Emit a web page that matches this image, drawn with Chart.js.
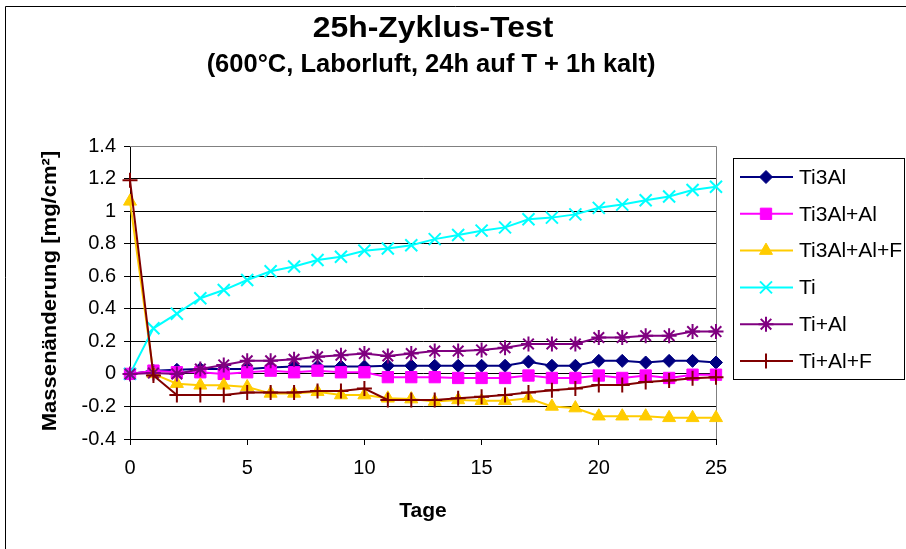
<!DOCTYPE html>
<html>
<head>
<meta charset="utf-8">
<script src="https://cdn.jsdelivr.net/npm/chart.js@4/dist/chart.umd.min.js"></script>
<style>
  html, body { margin: 0; padding: 0; background: #fff; }
  #wrap { width: 906px; height: 549px; }
</style>
</head>
<body>
<div id="wrap"><canvas id="c" width="906" height="549"></canvas></div>
<script>
// days on the x axis
const days = [0,1,2,3,4,5,6,7,8,9,10,11,12,13,14,15,16,17,18,19,20,21,22,23,24,25];

// mass change [mg/cm²] per sample
const ti3al    = [0, 0.02, 0.025, 0.03, 0.03, 0.03, 0.04, 0.045, 0.045, 0.045, 0.045, 0.05, 0.05, 0.05, 0.05, 0.05, 0.05, 0.075, 0.05, 0.05, 0.08, 0.08, 0.07, 0.08, 0.08, 0.07];
const ti3alAl  = [0, 0.02, 0.01, 0.01, 0, 0.01, 0.02, 0.01, 0.02, 0.01, 0.01, -0.02, -0.02, -0.02, -0.025, -0.025, -0.025, -0.01, -0.025, -0.025, -0.01, -0.025, -0.01, -0.025, -0.005, -0.005];
const ti3alAlF = [1.06, 0, -0.06, -0.07, -0.07, -0.08, -0.12, -0.12, -0.11, -0.13, -0.13, -0.15, -0.155, -0.17, -0.16, -0.165, -0.165, -0.15, -0.2, -0.21, -0.26, -0.26, -0.26, -0.27, -0.27, -0.27];
const ti       = [0, 0.28, 0.37, 0.465, 0.515, 0.577, 0.63, 0.66, 0.70, 0.72, 0.757, 0.77, 0.79, 0.828, 0.853, 0.88, 0.90, 0.95, 0.96, 0.98, 1.02, 1.04, 1.067, 1.09, 1.13, 1.15];
const tiAl     = [0, 0.005, 0, 0.03, 0.055, 0.08, 0.08, 0.09, 0.105, 0.115, 0.125, 0.11, 0.125, 0.14, 0.14, 0.147, 0.16, 0.184, 0.184, 0.184, 0.223, 0.223, 0.235, 0.235, 0.26, 0.26];
const tiAlF    = [1.19, -0.01, -0.13, -0.13, -0.13, -0.115, -0.115, -0.115, -0.105, -0.105, -0.09, -0.16, -0.16, -0.16, -0.15, -0.14, -0.13, -0.115, -0.1, -0.09, -0.068, -0.068, -0.05, -0.04, -0.027, -0.02];

const seriesNames = ['Ti3Al', 'Ti3Al+Al', 'Ti3Al+Al+F', 'Ti', 'Ti+Al', 'Ti+Al+F'];
const seriesData = [ti3al, ti3alAl, ti3alAlF, ti, tiAl, tiAlF];

const titleLines = ['25h-Zyklus-Test', '(600°C, Laborluft, 24h auf T + 1h kalt)'];
const yTitle = 'Massenänderung [mg/cm²]';
const xTitle = 'Tage';

const FONT = '"Liberation Sans", Arial, Helvetica, sans-serif';

const styles = [
  { color: '#000080', pointStyle: 'rectRot', radius: 6.5, bw: 1 },
  { color: '#FF00FF', pointStyle: 'rect', radius: 8, bw: 1 },
  { color: '#FFCC00', pointStyle: 'triangle', radius: 7.5, bw: 1 },
  { color: '#00FFFF', pointStyle: 'crossRot', radius: 8.5, bw: 2 },
  { color: '#800080', pointStyle: 'star', radius: 7.5, bw: 2 },
  { color: '#800000', pointStyle: 'cross', radius: 7.5, bw: 2 }
];

const datasets = seriesNames.map((name, i) => ({
  label: name,
  data: days.map((d, j) => ({ x: d, y: seriesData[i][j] })),
  borderColor: styles[i].color,
  backgroundColor: styles[i].color,
  borderWidth: 2,
  pointStyle: styles[i].pointStyle,
  pointRadius: styles[i].radius,
  pointBorderWidth: styles[i].bw,
  pointBackgroundColor: styles[i].color,
  pointBorderColor: styles[i].color,
  tension: 0,
  clip: false,
  order: seriesNames.length - i   // later series on top, like excel
}));

function scaledText(ctx, str, x, y, font, align, sx) {
  ctx.save();
  ctx.translate(x, y);
  ctx.scale(sx || 1, 1);
  ctx.font = font;
  ctx.textAlign = align || 'center';
  ctx.textBaseline = 'middle';
  ctx.fillStyle = '#000';
  ctx.fillText(str, 0, 0);
  ctx.restore();
}

const decor = {
  id: 'decor',
  beforeDraw(chart) {
    const ctx = chart.ctx;
    ctx.save();
    ctx.fillStyle = '#fff';
    ctx.fillRect(0, 0, chart.width, chart.height);
    ctx.restore();
  },
  beforeDatasetsDraw(chart) {
    const { ctx, chartArea: a } = chart;
    ctx.save();
    ctx.strokeStyle = '#808080';
    ctx.lineWidth = 1;
    ctx.beginPath();
    ctx.moveTo(a.left, a.top + 0.5);
    ctx.lineTo(a.right + 0.5, a.top + 0.5);
    ctx.lineTo(a.right + 0.5, a.bottom);
    ctx.stroke();
    ctx.restore();
  },
  afterDraw(chart) {
    const ctx = chart.ctx;
    // chart frame
    ctx.save();
    ctx.strokeStyle = '#000';
    ctx.lineWidth = 1;
    ctx.beginPath();
    ctx.moveTo(5.5, chart.height);
    ctx.lineTo(5.5, 6.5);
    ctx.lineTo(chart.width, 6.5);
    ctx.stroke();
    ctx.restore();

    // titles
    scaledText(ctx, titleLines[0], 433, 29, 'bold 29px ' + FONT, 'center', 1.1);
    scaledText(ctx, titleLines[1], 431, 65, 'bold 25px ' + FONT, 'center', 1.02);

    // axis titles
    ctx.save();
    ctx.translate(50, 291);
    ctx.rotate(-Math.PI / 2);
    scaledText(ctx, yTitle, 0, 0, 'bold 21px ' + FONT, 'center', 1.05);
    ctx.restore();
    scaledText(ctx, xTitle, 423, 511, 'bold 21px ' + FONT, 'center', 1);

    // legend
    ctx.save();
    ctx.fillStyle = '#fff';
    ctx.fillRect(733, 158, 172, 221);
    ctx.strokeStyle = '#000';
    ctx.lineWidth = 1;
    ctx.strokeRect(733.5, 158.5, 171, 221);
    seriesNames.forEach((name, i) => {
      const y = 177 + i * 36.8;
      const s = styles[i];
      ctx.strokeStyle = s.color;
      ctx.lineWidth = 2;
      ctx.beginPath();
      ctx.moveTo(740, y);
      ctx.lineTo(793, y);
      ctx.stroke();
      ctx.fillStyle = s.color;
      ctx.strokeStyle = s.color;
      ctx.lineWidth = s.bw;
      Chart.helpers.drawPoint(ctx, { pointStyle: s.pointStyle, radius: s.radius, rotation: 0, borderWidth: s.bw }, 766, y);
      scaledText(ctx, name, 799, y + 1, '21px ' + FONT, 'left', 1);
    });
    ctx.restore();
  }
};

new Chart(document.getElementById('c').getContext('2d'), {
  type: 'line',
  data: { datasets },
  options: {
    responsive: false,
    animation: false,
    devicePixelRatio: 1,
    layout: { padding: { top: 146, right: 190, left: 0, bottom: 0 } },
    plugins: {
      legend: { display: false },
      title: { display: false },
      tooltip: { enabled: false }
    },
    scales: {
      x: {
        type: 'linear',
        min: 0,
        max: 25,
        afterFit: (s) => { s.height = 110; },
        afterBuildTicks: (s) => { s.ticks = [0, 5, 10, 15, 20, 25].map(v => ({ value: v })); },
        ticks: { color: '#000', font: { family: FONT, size: 20 }, padding: 11, maxRotation: 0 },
        grid: { drawOnChartArea: false, drawTicks: true, tickLength: 6, color: '#000' },
        border: { color: '#000', width: 1 }
      },
      y: {
        min: -0.4,
        max: 1.4,
        afterFit: (s) => { s.width = 130; },
        ticks: { stepSize: 0.2, color: '#000', font: { family: FONT, size: 20 }, padding: 8,
          callback: (v) => Math.round(v * 10) / 10 },
        grid: { color: (c) => (c.tick && Math.abs(c.tick.value - 1.4) < 1e-6 ? '#808080' : '#000'),
          lineWidth: 1, drawTicks: true, tickLength: 6, tickColor: '#000' },
        border: { color: '#000', width: 1 }
      }
    }
  },
  plugins: [decor]
});
</script>
</body>
</html>
